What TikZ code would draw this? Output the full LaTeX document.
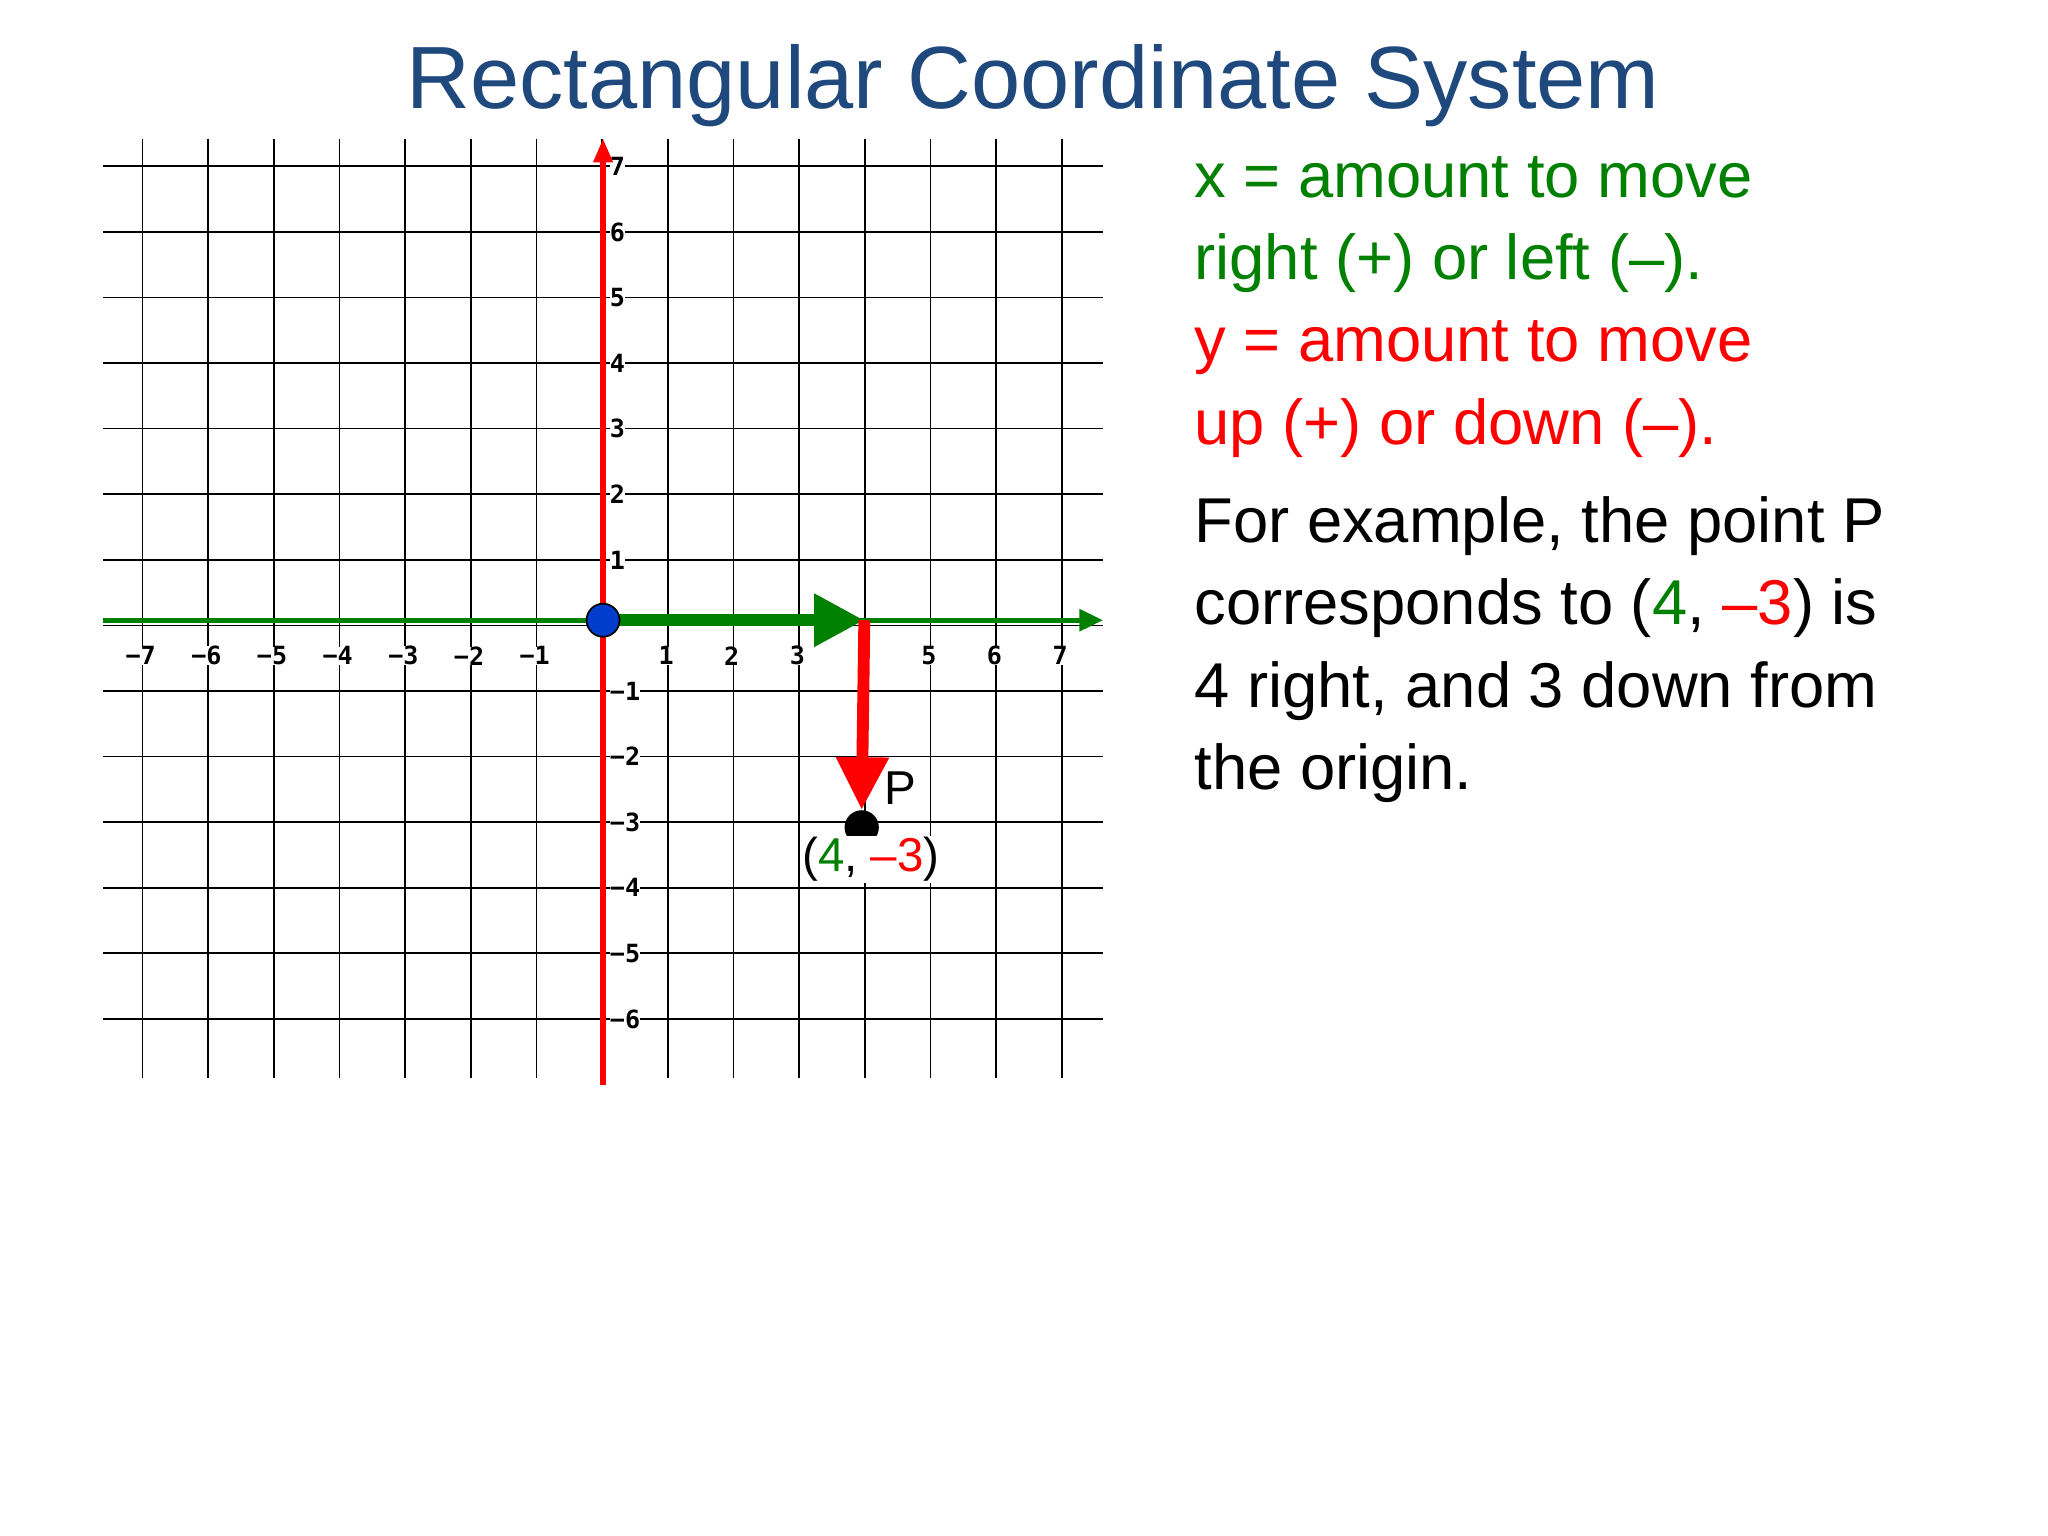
\documentclass[tikz,border=0pt]{standalone}
\usepackage{fontspec}
\setmainfont{Liberation Sans}
\newfontfamily\tickfont{DejaVu Sans Mono}
\usetikzlibrary{arrows.meta}
\definecolor{ttl}{RGB}{31,73,125}
\definecolor{gr}{RGB}{0,128,0}
\definecolor{rd}{RGB}{255,0,0}
\begin{document}
\begin{tikzpicture}[x=1pt,y=-1pt,
  txt/.style={anchor=base west,inner sep=0pt,font=\fontsize{48}{58}\selectfont},
  tick/.style={inner sep=0pt,font=\tickfont\bfseries\fontsize{19}{20}\selectfont}]
\useasboundingbox[fill=white] (0,0) rectangle (1552,1164);
\node[ttl,font=\fontsize{67}{70}\selectfont,anchor=base] (title) at (783,82) {Rectangular Coordinate System};
% grid
\foreach \i in {0,...,14} {\draw[line width=1.3pt] ({108+49.77*\i},105) -- ({108+49.77*\i},817);}
\foreach \j in {0,...,13} {\draw[line width=1.3pt] (78,{126+49.7*\j}) -- (836,{126+49.7*\j});}
% ticks
\foreach \i/\l in {-7/−7,-6/−6,-5/−5,-4/−4,-3/−3,-2/−2,-1/−1,1/1,2/2,3/3,5/5,6/6,7/7}
  {\node[tick,fill=white] at ({457+49.77*\i-2},497) {\l};}
\foreach \j/\l in {7/7,6/6,5/5,4/4,3/3,2/2,1/1,-1/−1,-2/−2,-3/−3,-4/−4,-5/−5,-6/−6}
  {\node[tick,fill=white,anchor=west] at (462,{474-49.7*\j}) {\l};}
% axes
\coordinate (xl) at (78,470); \coordinate (xr) at (836,470);
\coordinate (yb) at (457,822); \coordinate (yt) at (457,105);
\draw[gr,line width=4pt,-{Triangle[length=18pt,width=16pt]}] (xl) -- (xr);
\draw[rd,line width=4pt,-{Triangle[length=18pt,width=14pt]}] (yb) -- (yt);
\coordinate (o) at (457,470); \coordinate (a) at (655,470);
\draw[gr,line width=9pt,-{Triangle[length=38pt,width=38pt]}] (o) -- (a);
\node[circle,fill=black,minimum size=26pt,inner sep=0pt] (P) at (653,627) {};
\draw[rd,line width=9pt,-{Triangle[length=40pt,width=38pt]}] (a) -- (P.north);
\node[circle,fill=blue!70!cyan!80!black,draw=black,line width=1.3pt,minimum size=25pt,inner sep=0pt] (O) at (o) {};
\node[font=\fontsize{36}{40}\selectfont,inner sep=0pt] (pl) at (682,597) {P};
\node[font=\fontsize{36}{40}\selectfont,inner sep=1pt,fill=white] (pc) at (660,651) {(\textcolor{gr}{4}, \textcolor{rd}{–3})};
% text
\node[txt,gr] (t1) at (905,150) {x = amount to move};
\node[txt,gr] (t2) at (905,212) {right (+) or left (–).};
\node[txt,rd] (t3) at (905,274) {y = amount to move};
\node[txt,rd] (t4) at (905,337) {up (+) or down (–).};
\node[txt] (t5) at (905,411) {For example, the point P};
\node[txt] (t6) at (905,473) {corresponds to (\textcolor{gr}{4}, \textcolor{rd}{–3}) is};
\node[txt] (t7) at (905,536) {4 right, and 3 down from};
\node[txt] (t8) at (905,598) {the origin.};
\end{tikzpicture}
\end{document}
